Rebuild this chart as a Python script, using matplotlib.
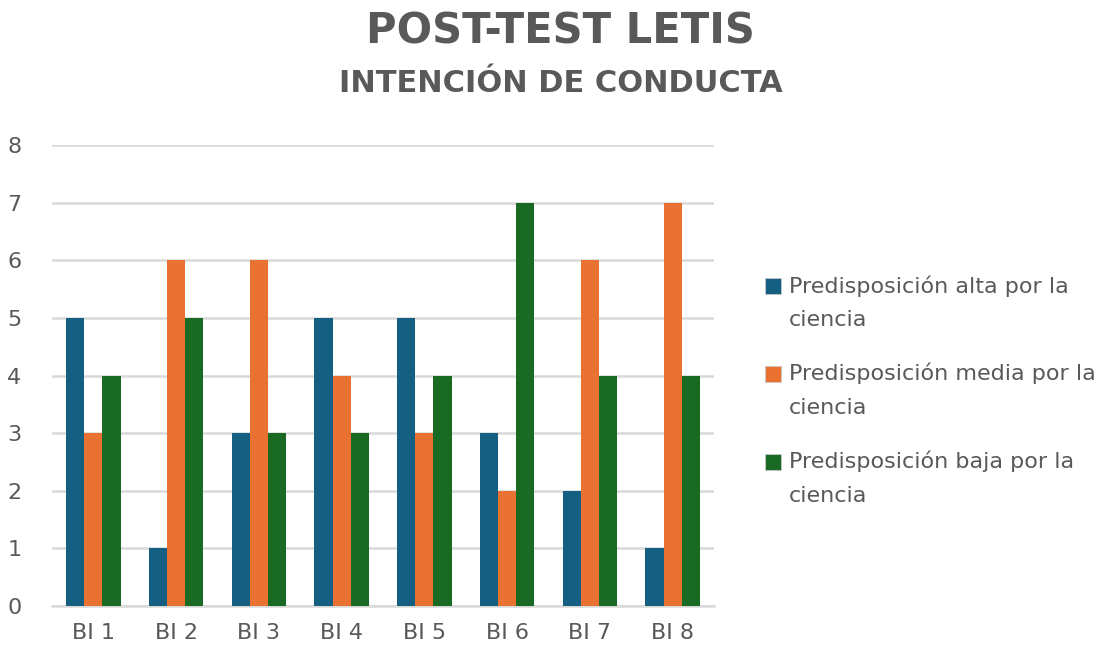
import matplotlib
import matplotlib.pyplot as plt
from matplotlib.patches import Rectangle
import numpy as np

matplotlib.use('Agg')

categories = ["BI 1", "BI 2", "BI 3", "BI 4", "BI 5", "BI 6", "BI 7", "BI 8"]
alta = [5, 1, 3, 5, 5, 3, 2, 1]
media = [3, 6, 6, 4, 3, 2, 6, 7]
baja = [4, 5, 3, 3, 4, 7, 4, 4]
series_labels = ["Predisposición alta por la\nciencia",
                 "Predisposición media por la\nciencia",
                 "Predisposición baja por la\nciencia"]
colors = ["#156082", "#e97132", "#196b24"]

text_color = "#595959"
grid_color = "#d9d9d9"

W, H = 1109, 650
fig = plt.figure(figsize=(W / 100, H / 100), dpi=100)
ax = fig.add_axes([52 / W, 1 - 606 / H, 662 / W, 461 / H])

x = np.arange(len(categories))
w = 0.22
for i, (vals, c) in enumerate(zip([alta, media, baja], colors)):
    ax.bar(x + (i - 1) * w, vals, width=w, color=c, zorder=3)

ax.set_xlim(-0.5, len(categories) - 0.5)
ax.set_ylim(0, 8)
ax.set_yticks(range(0, 9))
ax.set_xticks(x)
ax.set_xticklabels(categories)
ax.grid(axis='y', color=grid_color, linewidth=1.8, zorder=0)
for s in ['top', 'right', 'left']:
    ax.spines[s].set_visible(False)
ax.spines['bottom'].set_color(grid_color)
ax.spines['bottom'].set_linewidth(1.8)
ax.tick_params(length=0, labelsize=16, labelcolor=text_color)
ax.tick_params(axis='y', pad=22)
ax.tick_params(axis='x', pad=12)

fig.text(560 / W, 1 - 31 / H, "POST-TEST LETIS", ha='center', va='center',
         fontsize=30, fontweight='bold', color=text_color)
fig.text(561 / W, 1 - 83 / H, "INTENCIÓN DE CONDUCTA", ha='center', va='center',
         fontsize=22, fontweight='bold', color=text_color)

# legend: square beside the first line of each wrapped label
for i, (lab, c) in enumerate(zip(series_labels, colors)):
    y0 = 278 + 88 * i
    fig.patches.append(Rectangle((765 / W, 1 - (y0 + 16) / H), 16 / W, 16 / H,
                                 transform=fig.transFigure, facecolor=c,
                                 edgecolor='#c8c8c8', linewidth=0.6))
    fig.text(789 / W, 1 - (y0 - 3) / H, lab, ha='left', va='top',
             fontsize=16, color=text_color, linespacing=1.85)

fig.savefig("out.png", dpi=100)
